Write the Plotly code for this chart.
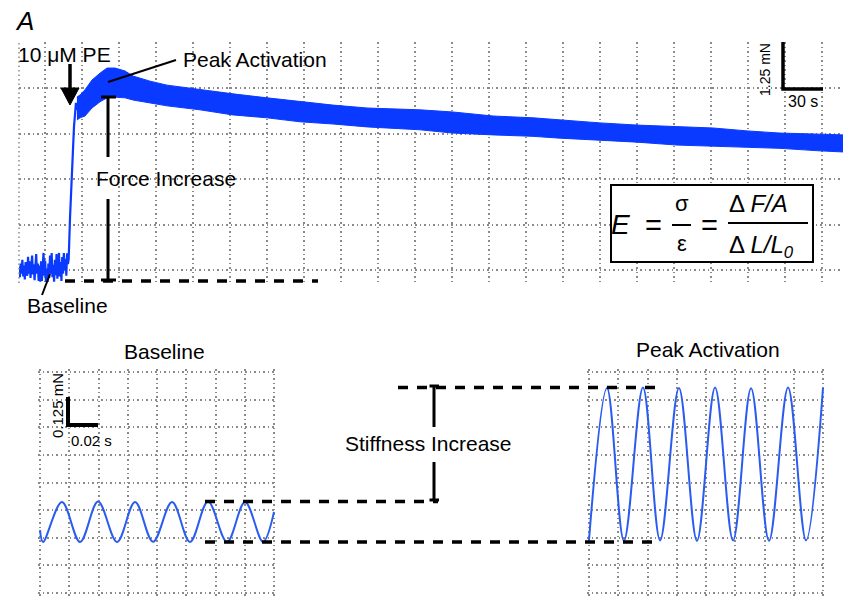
import numpy as np
import plotly.graph_objects as go

W, H = 843, 597
FONT = "Liberation Sans, Arial, Helvetica, sans-serif"

# ---------------- data ----------------
# Top record: isometric force (mN) vs time (s), 10 uM PE added at ~t=18 s
noise_t_start, noise_t_end = -21.0, 18.6
baseline_noise = [0.10, -0.20, 0.18, -0.10, 0.28, -0.18, 0.12, -0.26, 0.22, 0.00,
                  -0.16, 0.36, -0.10, 0.24, -0.22, 0.10, 0.40, -0.12, 0.16, -0.28,
                  0.06, 0.44, -0.10, 0.18, -0.30, 0.12, -0.32, 0.24, -0.30, 0.06,
                  0.47, -0.16, 0.26, -0.33, 0.04, -0.33, 0.18, -0.22, 0.40, -0.10,
                  0.47, -0.20, 0.14, -0.32, 0.28, -0.14, 0.44, -0.24, 0.06, 0.47,
                  -0.18, 0.22, -0.30, 0.36, -0.10, 0.47, 0.00, 0.30, -0.16, 0.46, 0.16]
rise_time = [19.2, 20.3, 21.9, 23.5, 25.1, 25.9]
rise_force = [0.30, 1.45, 2.83, 3.94, 4.60, 4.40]
band_time = [25.9, 28.4, 32.4, 38.1, 44.6, 50.3, 56.8, 64.9, 71.4, 85.1,
             98.9, 125.7, 152.4, 180.0, 206.8, 233.5, 261.1, 304.1, 330.8, 363.2,
             395.7, 417.6, 450.0, 480.0, 512.4, 541.6, 569.2, 595.9, 628.4, 647.0]
band_upper = [4.76, 4.82, 4.96, 5.23, 5.42, 5.56, 5.56, 5.48, 5.34, 5.20,
              5.09, 4.96, 4.85, 4.74, 4.63, 4.54, 4.46, 4.41, 4.35, 4.24,
              4.19, 4.13, 4.05, 3.99, 3.95, 3.91, 3.83, 3.77, 3.74, 3.72]
band_lower = [4.13, 4.19, 4.24, 4.46, 4.63, 4.74, 4.76, 4.74, 4.68, 4.60,
              4.52, 4.41, 4.27, 4.19, 4.08, 4.02, 3.94, 3.86, 3.77, 3.72,
              3.68, 3.63, 3.58, 3.52, 3.44, 3.41, 3.39, 3.35, 3.28, 3.25]
baseline_level = -0.30

# Bottom: force response to sinusoidal length oscillation (extrema of each cycle)
base_osc_time = [0.0, 0.0021, 0.0150, 0.0274, 0.0397, 0.0527, 0.0650, 0.0773,
                 0.0903, 0.1026, 0.1149, 0.1279, 0.1402, 0.1525, 0.1600]
base_osc_force = [0.285, 0.231, 0.412, 0.231, 0.414, 0.231, 0.412, 0.232,
                  0.412, 0.231, 0.414, 0.231, 0.412, 0.232, 0.367]
peak_osc_time = [0.0, 0.0123, 0.0239, 0.0369, 0.0486, 0.0615, 0.0738, 0.0862,
                 0.0985, 0.1108, 0.1231, 0.1361, 0.1484, 0.1600]
peak_osc_force = [0.240, 0.928, 0.236, 0.930, 0.238, 0.928, 0.236, 0.930,
                  0.238, 0.926, 0.236, 0.930, 0.238, 0.928]


def X(px):
    return px / W


def Y(py):
    return 1 - py / H


BLUE_TOP = "#0a3aff"
BLUE_OSC = "#2a5cf0"
GRID = "#8a8a8a"

fig = go.Figure()

noise_time = np.linspace(noise_t_start, noise_t_end, len(baseline_noise))
fig.add_trace(go.Scatter(x=list(noise_time) + rise_time, y=baseline_noise + rise_force,
                         mode="lines", line=dict(color=BLUE_TOP, width=2.2),
                         xaxis="x", yaxis="y", hoverinfo="skip"))
fig.add_trace(go.Scatter(x=band_time, y=band_upper, mode="lines",
                         line=dict(color=BLUE_TOP, width=1), xaxis="x", yaxis="y"))
fig.add_trace(go.Scatter(x=band_time, y=band_lower, mode="lines", fill="tonexty",
                         fillcolor=BLUE_TOP, line=dict(color=BLUE_TOP, width=1),
                         xaxis="x", yaxis="y"))
fig.add_trace(go.Scatter(x=base_osc_time, y=base_osc_force, mode="lines",
                         line=dict(color=BLUE_OSC, width=2, shape="spline"),
                         xaxis="x2", yaxis="y2"))
fig.add_trace(go.Scatter(x=peak_osc_time, y=peak_osc_force, mode="lines",
                         line=dict(color=BLUE_OSC, width=2, shape="spline"),
                         xaxis="x3", yaxis="y3"))

grid_common = dict(showgrid=True, gridcolor=GRID, gridwidth=1.5, griddash="1.5px,3px",
                   zeroline=False, showticklabels=False, ticks="", showline=False,
                   fixedrange=True)

fig.update_layout(
    width=W, height=H, margin=dict(l=0, r=0, t=0, b=0),
    paper_bgcolor="white", plot_bgcolor="white", showlegend=False,
    font=dict(family=FONT, color="black"),
    xaxis=dict(domain=[X(19), 1.0], range=[-21.08, 647.0], tick0=0, dtick=30,
               anchor="y", **grid_common),
    yaxis=dict(domain=[Y(285), Y(42)], range=[-0.413, 6.2775], tick0=0, dtick=1.25,
               anchor="x", **grid_common),
    xaxis2=dict(domain=[X(38), X(276)], range=[-0.0013675, 0.161368], tick0=0,
                dtick=0.02, anchor="y2", **grid_common),
    yaxis2=dict(domain=[0, Y(369)], range=[-0.0181, 1.0136], tick0=0, dtick=0.125,
                anchor="x2", **grid_common),
    xaxis3=dict(domain=[X(587), X(825)], range=[-0.0013675, 0.161368], tick0=0,
                dtick=0.02, anchor="y3", **grid_common),
    yaxis3=dict(domain=[0, Y(369)], range=[-0.0181, 1.0136], tick0=0, dtick=0.125,
                anchor="x3", **grid_common),
)

shapes = []


def pline(x0, y0, x1, y1, w=3, dash=None, color="black"):
    d = dict(type="line", xref="paper", yref="paper", x0=X(x0), y0=Y(y0),
             x1=X(x1), y1=Y(y1), line=dict(color=color, width=w))
    if dash:
        d["line"]["dash"] = dash
    shapes.append(d)


DASH = "10px,9px"
# top panel left dotted border
pline(19, 43, 19, 285, w=1.5, dash="1.5px,3px", color=GRID)
# baseline dashed line
shapes.append(dict(type="line", xref="paper", yref="y", x0=X(65), x1=X(318),
                   y0=baseline_level, y1=baseline_level,
                   line=dict(color="black", width=3.5, dash=DASH)))
# force increase bracket
pline(108, 97, 108, 157, w=3)
pline(108, 199, 108, 280, w=3)
pline(101, 97, 116, 97, w=3)
pline(101, 280, 116, 280, w=3)
# PE arrow
pline(70, 64, 70, 90, w=3.5)
shapes.append(dict(type="path", xref="paper", yref="paper",
                   path=f"M {X(61)},{Y(88)} L {X(79)},{Y(88)} L {X(70)},{Y(105)} Z",
                   fillcolor="black", line=dict(color="black", width=1)))
# pointers
pline(108, 82, 176, 60, w=2)
pline(50, 274, 42, 295, w=2)
# top scale bar
pline(783, 42, 783, 89, w=3.5)
pline(781.3, 89, 823, 89, w=3.5)
# equation box
shapes.append(dict(type="rect", xref="paper", yref="paper", x0=X(611), y0=Y(262),
                   x1=X(813), y1=Y(185), fillcolor="white",
                   line=dict(color="black", width=2)))
pline(672, 225, 691, 225, w=2)
pline(728, 223, 808, 223, w=2)

# bottom scale bar
pline(68, 397, 68, 425, w=4)
pline(66, 425, 98, 425, w=4)
# stiffness dashed lines, tied to the oscillation extrema
base_peak = max(base_osc_force)
base_trough = min(base_osc_force)
peak_peak = max(peak_osc_force)
for x0, x1, yv in [(205, 438, base_peak), (205, 655, base_trough), (398, 655, peak_peak)]:
    shapes.append(dict(type="line", xref="paper", yref="y2", x0=X(x0), x1=X(x1),
                       y0=yv, y1=yv, line=dict(color="black", width=3.5, dash=DASH)))
# stiffness bracket
pline(434, 386, 434, 427, w=3)
pline(434, 462, 434, 500, w=3)
pline(429.5, 386, 439, 386, w=3)
pline(429.5, 500, 439, 500, w=3)

annotations = []


def txt(text, px, py, size=21, xanchor="center", angle=0):
    annotations.append(dict(text=text, x=X(px), y=Y(py), xref="paper", yref="paper",
                            xanchor=xanchor, yanchor="middle", showarrow=False,
                            textangle=angle, font=dict(family=FONT, size=size,
                                                       color="black")))


txt("<i>A</i>", 13, 21, size=26, xanchor="left")
txt("10 μM PE", 16, 55, xanchor="left")
txt("Peak Activation", 181, 60, xanchor="left")
txt("Force Increase", 166, 179)
txt("Baseline", 25, 305, xanchor="left")
txt("1.25 mN", 765, 70, size=14, angle=-90)
txt("30 s", 803, 102, size=16)
# equation
txt("<i>E</i>", 620, 225, size=28)
txt("=", 653, 225, size=29)
txt("σ", 682, 204, size=22)
txt("ε", 682, 244, size=22)
txt("=", 709, 225, size=29)
txt("Δ <i>F/A</i>", 727, 203, size=24, xanchor="left")
txt("Δ <i>L/L<sub>0</sub></i>", 727, 246, size=24, xanchor="left")
# bottom
txt("Baseline", 164, 351)
txt("Peak Activation", 708, 350)
txt("Stiffness Increase", 428, 443)
txt("0.125 mN", 57, 406, size=15, angle=-90)
txt("0.02 s", 69, 440, size=15, xanchor="left")

fig.update_layout(shapes=shapes, annotations=annotations)
fig.write_html("out.html", config={"displayModeBar": False},
               post_script="document.body.style.margin='0px';")
